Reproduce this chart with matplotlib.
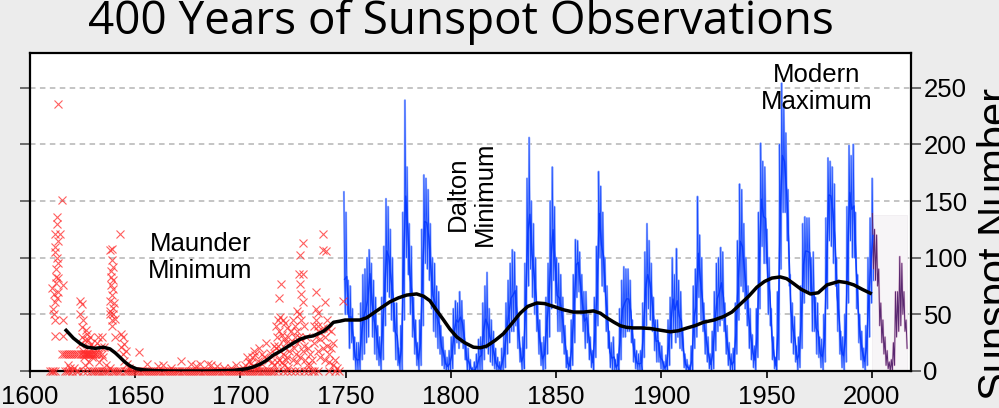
import matplotlib
matplotlib.use("Agg")
import matplotlib.pyplot as plt
from matplotlib.patches import Rectangle
import numpy as np

# ---------------- data ----------------
title = "400 Years of Sunspot Observations"
ylabel = "Sunspot Number"
x_ticks = [1600, 1650, 1700, 1750, 1800, 1850, 1900, 1950, 2000]
y_ticks = [0, 50, 100, 150, 200, 250]

# monthly sunspot numbers 1749-2000: highest and lowest monthly value of each year
blue_first_year = 1749
blue_hi = [158, 140, 80, 75, 55, 30, 25, 25, 60, 85, 90, 100, 107, 95, 80, 65, 40, 30, 65, 110,
           152, 145, 125, 100, 60, 60, 20, 40, 140, 239, 180, 130, 110, 65, 45, 25, 45, 125, 173, 170,
           160, 130, 100, 95, 75, 70, 40, 30, 18, 12, 18, 30, 55, 62, 60, 70, 62, 45, 25, 20,
           10, 3, 8, 15, 28, 30, 60, 75, 87, 55, 45, 35, 20, 12, 8, 20, 35, 60, 80, 95,
           107, 105, 75, 50, 20, 30, 95, 170, 206, 150, 130, 100, 60, 45, 25, 30, 65, 95, 150, 180,
           145, 100, 95, 85, 65, 40, 18, 12, 45, 85, 116, 115, 105, 85, 70, 70, 50, 30, 18, 65,
           110, 176, 163, 140, 100, 75, 35, 25, 30, 10, 15, 55, 80, 92, 90, 90, 80, 45, 28, 18,
           15, 18, 60, 105, 130, 115, 95, 65, 45, 45, 25, 22, 8, 14, 45, 65, 100, 85, 108, 80,
           70, 35, 15, 10, 5, 22, 75, 90, 154, 120, 100, 60, 45, 30, 15, 35, 70, 95, 100, 109,
           105, 60, 40, 25, 15, 20, 60, 115, 165, 160, 130, 100, 75, 55, 32, 22, 55, 140, 201, 185,
           180, 125, 100, 55, 30, 12, 70, 200, 254, 235, 210, 160, 85, 60, 48, 22, 30, 75, 130, 136,
           135, 135, 100, 105, 65, 60, 30, 28, 50, 135, 188, 185, 180, 165, 100, 80, 35, 30, 50, 145,
           199, 190, 200, 140, 85, 50, 35, 20, 40, 100, 135, 170]
blue_lo = [50, 50, 20, 25, 10, 0, 0, 0, 10, 15, 25, 30, 50, 30, 15, 10, 5, 0, 10, 40,
           70, 65, 45, 35, 10, 5, 0, 0, 45, 100, 85, 50, 30, 15, 5, 0, 5, 40, 95, 90,
           80, 55, 35, 30, 20, 15, 5, 2, 0, 0, 0, 2, 15, 25, 20, 25, 20, 10, 0, 0,
           0, 0, 0, 0, 0, 0, 10, 20, 15, 8, 5, 2, 0, 0, 0, 0, 3, 15, 25, 35,
           35, 40, 20, 8, 0, 2, 20, 75, 90, 65, 50, 35, 15, 5, 0, 2, 15, 30, 55, 80,
           60, 35, 35, 25, 15, 3, 0, 0, 5, 25, 65, 70, 50, 35, 20, 25, 10, 3, 0, 12,
           40, 100, 75, 70, 35, 20, 3, 0, 0, 0, 0, 10, 30, 30, 35, 35, 25, 8, 2, 0,
           0, 0, 12, 40, 55, 45, 35, 18, 8, 8, 2, 0, 0, 0, 5, 20, 35, 25, 30, 20,
           18, 3, 0, 0, 0, 0, 20, 30, 65, 45, 35, 15, 8, 2, 0, 2, 18, 35, 40, 45,
           35, 15, 5, 0, 0, 0, 15, 45, 75, 70, 55, 40, 20, 10, 3, 0, 12, 55, 110, 95,
           95, 50, 40, 10, 2, 0, 10, 90, 140, 140, 115, 75, 25, 15, 8, 0, 3, 20, 60, 70,
           70, 70, 35, 35, 15, 12, 3, 0, 8, 55, 115, 110, 95, 75, 35, 15, 3, 0, 8, 60,
           115, 100, 100, 55, 25, 10, 3, 0, 5, 30, 60, 80]
# yearly means 1749-2000
blue_mean = [80.9, 83.4, 47.7, 47.8, 30.7, 12.2, 9.6, 10.2, 32.4, 47.6, 54.0, 62.9, 85.9, 61.2,
             45.1, 36.4, 20.9, 11.4, 37.8, 69.8, 106.1, 100.8, 81.6, 66.5, 34.8, 30.6, 7.0, 19.8,
             92.5, 154.4, 125.9, 84.8, 68.1, 38.5, 22.8, 10.2, 24.1, 82.9, 132.0, 130.9, 118.1,
             89.9, 66.6, 60.0, 46.9, 41.0, 21.3, 16.0, 6.4, 4.1, 6.8, 14.5, 34.0, 45.0, 43.1,
             47.5, 42.2, 28.1, 10.1, 8.1, 2.5, 0.0, 1.4, 5.0, 12.2, 13.9, 35.4, 45.8, 41.1, 30.1,
             23.9, 15.6, 6.6, 4.0, 1.8, 8.5, 16.6, 36.3, 49.6, 64.2, 67.0, 70.9, 47.8, 27.5, 8.5,
             13.2, 56.9, 121.5, 138.3, 103.2, 85.7, 64.6, 36.7, 24.2, 10.7, 15.0, 40.1, 61.5,
             98.5, 124.7, 96.3, 66.6, 64.5, 54.1, 39.0, 20.6, 6.7, 4.3, 22.7, 54.8, 93.8, 95.8,
             77.2, 59.1, 44.0, 47.0, 30.5, 16.3, 7.3, 37.6, 74.0, 139.0, 111.2, 101.6, 66.2,
             44.7, 17.0, 11.3, 12.4, 3.4, 6.0, 32.3, 54.3, 59.7, 63.7, 63.5, 52.2, 25.4, 13.1,
             6.8, 6.3, 7.1, 35.6, 73.0, 85.1, 78.0, 64.0, 41.8, 26.2, 26.7, 12.1, 9.5, 2.7, 5.0,
             24.4, 42.0, 63.5, 53.8, 62.0, 48.5, 43.9, 18.6, 5.7, 3.6, 1.4, 9.6, 47.4, 57.1,
             103.9, 80.6, 63.6, 37.6, 26.1, 14.2, 5.8, 16.7, 44.3, 63.9, 69.0, 77.8, 64.9, 35.7,
             21.2, 11.1, 5.7, 8.7, 36.1, 79.7, 114.4, 109.6, 88.8, 67.8, 47.5, 30.6, 16.3, 9.6,
             33.2, 92.6, 151.6, 136.3, 134.7, 83.9, 69.4, 31.5, 13.9, 4.4, 38.0, 141.7, 190.2,
             184.8, 159.0, 112.3, 53.9, 37.6, 27.9, 10.2, 15.1, 47.0, 93.8, 105.9, 105.5, 104.5,
             66.6, 68.9, 38.0, 34.5, 15.5, 12.6, 27.5, 92.5, 155.4, 154.6, 140.4, 115.9, 66.6,
             45.9, 17.9, 13.4, 29.4, 100.2, 157.6, 142.6, 145.7, 94.3, 54.6, 29.9, 17.5, 8.6,
             21.5, 64.3, 93.3, 119.6]

# recent monthly data 2000-2016: highest and lowest monthly value of each year
purple_first_year = 2000
purple_hi = [139, 125, 120, 90, 60, 45, 30, 18, 8, 10, 25, 70, 70, 101, 95, 70, 45]
purple_lo = [90, 80, 75, 40, 25, 15, 5, 2, 0, 0, 5, 30, 35, 40, 50, 35, 20]

# early telescopic observations (group sunspot number)
red_year = [1609.5, 1610.3, 1611.0, 1612.0, 1616.5, 1617.5, 1618.5, 1619.0, 1618.0,
            1610.3, 1611.1, 1611.9, 1611.9, 1611.9, 1611.9, 1611.9, 1612.7, 1612.7, 1612.7,
            1613.1, 1612.3, 1613.5, 1612.7, 1613.1, 1615.1, 1614.3, 1615.5, 1615.8, 1615.5,
            1612.3, 1611.5, 1612.3, 1613.1, 1612.0, 1611.5, 1613.5,
            1615, 1616, 1617, 1618, 1619, 1620, 1621, 1622, 1623, 1624, 1625, 1625.5, 1626, 1626.5,
            1627, 1627.5, 1628, 1628.5, 1629, 1629.5, 1630, 1631, 1632, 1633, 1634,
            1620, 1621, 1622, 1623, 1625, 1627, 1629, 1630, 1631, 1632, 1633, 1634, 1635, 1636,
            1637, 1638, 1639, 1640, 1641, 1642,
            1623.8, 1624.5, 1623.8, 1625.0, 1624.5, 1627.0, 1628.5, 1626.0, 1629.0, 1628.0,
            1623.8, 1625.0, 1630.0, 1631.0, 1624.5, 1626.5, 1627.5, 1625.5, 1629.5, 1628.0, 1626.0,
            1632.5, 1634.0, 1632.0, 1633.5, 1635.0, 1634.5, 1633.0, 1636.0,
            1638.8, 1638.0, 1642.6, 1639.3, 1638.3, 1639.5, 1638.3, 1639.5, 1638.8, 1638.0,
            1639.3, 1638.0, 1639.5, 1640.3, 1638.8, 1637.8, 1639.0, 1638.5, 1640.0, 1639.0, 1640.5,
            1643.2, 1644.0, 1644.5, 1643.2, 1645.5, 1644.0, 1644.5, 1646.0, 1647.0, 1645.0,
            1646.0, 1643.0,
            1651.9, 1655.8, 1660.6, 1671.7, 1676.4, 1684.4, 1689.0, 1695.4, 1663.0, 1667.0,
            1679.0, 1681.0, 1686.0, 1692.0, 1698.0,
            1647, 1648, 1649, 1650, 1651, 1652, 1653, 1654, 1655, 1656, 1657, 1658, 1659, 1660,
            1661, 1662, 1663, 1664, 1665, 1666, 1667, 1668, 1669, 1670, 1671, 1672, 1673, 1674,
            1675, 1676, 1677, 1678, 1679, 1680, 1681, 1682, 1683, 1684, 1685, 1686, 1687, 1688,
            1689, 1690, 1691, 1692, 1693, 1694, 1695, 1696, 1697, 1698, 1699, 1700,
            1703.3, 1706.5, 1708.1, 1705.0, 1710.0, 1711.0, 1702.0, 1704.0, 1707.0, 1709.0,
            1713.0, 1714.0, 1715.0, 1716.0, 1701.0, 1706.0, 1710.0, 1712.0, 1705.5, 1708.0,
            1701, 1702, 1703, 1704, 1705, 1706, 1707, 1708, 1709, 1710, 1711, 1712, 1713, 1714,
            1715, 1716,
            1739.4, 1729.9, 1739.4, 1740.6, 1728.3, 1728.0, 1729.9, 1719.3, 1728.3, 1718.3,
            1728.6, 1729.9, 1735.9, 1740.2, 1748.9, 1726.9, 1736.0, 1736.9, 1741.7,
            1717.0, 1718.0, 1719.0, 1720.0, 1721.0, 1722.0, 1717.5, 1718.5, 1719.5, 1720.5,
            1721.5, 1722.5, 1717.0, 1718.0, 1719.0, 1720.0, 1721.0, 1722.0, 1723.0, 1718.5,
            1719.5, 1720.5, 1721.5, 1722.5, 1716.5, 1717.5, 1716.0, 1723.5, 1724.0,
            1725.0, 1726.0, 1727.0, 1728.0, 1729.0, 1730.0, 1726.0, 1727.0, 1728.0, 1729.0,
            1730.0, 1731.0, 1725.5, 1726.5, 1728.5, 1729.5, 1730.5, 1731.5, 1727.0, 1725.0,
            1732.0, 1733.0, 1734.0, 1735.0, 1736.0, 1737.0, 1734.0, 1733.0,
            1735.0, 1736.0, 1737.0, 1738.0, 1739.0, 1740.0, 1741.0, 1742.0, 1743.0, 1738.0,
            1740.0, 1742.0, 1739.0, 1737.0, 1741.0, 1743.0, 1744.0, 1745.0, 1744.0, 1746.0,
            1718, 1720, 1722, 1724, 1726, 1728, 1730, 1732, 1735, 1737, 1742, 1745, 1747]
red_value = [0, 0, 0, 0, 0, 0, 0, 3, 5,
             73, 55, 61, 45, 31, 121, 109, 136, 130, 100,
             95, 83, 82, 64, 236, 151, 121, 76, 45, 31,
             90, 68, 78, 115, 105, 50, 70,
             15, 15, 15, 15, 15, 15, 15, 15, 15, 15, 15, 15, 15, 15,
             15, 15, 15, 15, 15, 15, 15, 15, 15, 15, 15,
             0, 3, 0, 0, 0, 0, 0, 0, 0, 0, 0, 0, 0, 0,
             0, 3, 0, 0, 0, 0,
             62, 59, 50, 45, 39, 33, 30, 27, 24, 21,
             24, 18, 21, 15, 30, 36, 27, 12, 12, 8, 5,
             30, 30, 25, 21, 21, 12, 8, 5,
             108, 107, 121, 92, 83, 80, 76, 72, 67, 62,
             56, 53, 50, 46, 45, 50, 98, 88, 60, 40, 30,
             33, 30, 24, 21, 18, 15, 9, 6, 3, 0,
             0, 0,
             17, 6, 4.5, 9, 6, 6, 4, 3, 5, 3,
             4, 6, 5, 3, 5,
             0, 0, 0, 0, 0, 0, 0, 0, 0, 0, 0, 0, 0, 0,
             0, 0, 0, 0, 0, 0, 0, 0, 0, 0, 0, 0, 0, 0,
             0, 0, 0, 0, 0, 0, 0, 0, 0, 0, 0, 0, 0, 0,
             0, 0, 0, 0, 0, 0, 0, 0, 0, 0, 0, 0,
             12, 18, 9, 7, 6, 12, 5, 8, 14, 20,
             10, 16, 8, 22, 3, 4, 15, 25, 12, 3,
             0, 0, 0, 0, 0, 0, 0, 0, 0, 0, 0, 0, 0, 0,
             0, 0,
             121, 113, 107, 106, 102, 86, 86, 77, 77, 64,
             68, 61, 70, 61, 62, 53, 55, 51, 37,
             40, 45, 48, 45, 42, 38, 30, 35, 32, 28,
             25, 30, 20, 22, 18, 15, 20, 12, 18, 10,
             8, 5, 10, 3, 15, 8, 5, 25, 35,
             45, 40, 35, 50, 45, 40, 30, 25, 30, 28,
             22, 30, 20, 15, 12, 18, 10, 5, 8, 10,
             20, 15, 10, 25, 30, 40, 0, 5,
             40, 45, 35, 28, 38, 30, 22, 15, 20, 12,
             10, 8, 20, 18, 45, 35, 25, 10, 5, 3,
             0, 0, 0, 0, 0, 0, 0, 0, 0, 0, 0, 0, 0]

# smoothed long-term average
smooth_year = [1616.6, 1620.6, 1624.0, 1627.0, 1631.0, 1634.9, 1638.0, 1640.5, 1642.8, 1645.0,
               1647.5, 1650.5, 1653.9, 1660.0, 1666.5, 1675.0, 1685.0, 1696.6, 1703.0, 1706.0,
               1709.3, 1712.5, 1715.6, 1719.0, 1722.0, 1725.0, 1728.3, 1731.5, 1734.6, 1737.0,
               1739.4, 1742.0, 1744.2, 1747.3, 1749.7, 1752.0, 1756.8, 1760.0, 1763.1, 1767.0,
               1771.0, 1775.0, 1779.0, 1783.7, 1787.0, 1790.0, 1793.0, 1796.5, 1799.5, 1802.8,
               1806.5, 1810.7, 1814.0, 1817.0, 1821.0, 1825.0, 1829.0, 1832.9, 1836.5, 1840.8,
               1844.5, 1848.7, 1853.5, 1858.2, 1863.0, 1867.7, 1871.0, 1874.0, 1877.5, 1880.4,
               1883.5, 1886.7, 1890.5, 1894.7, 1899.5, 1904.2, 1908.0, 1912.1, 1916.0, 1920.0,
               1925.0, 1929.5, 1933.5, 1937.5, 1941.5, 1945.4, 1949.0, 1952.5, 1956.5, 1959.5,
               1962.9, 1966.5, 1970.8, 1974.5, 1978.7, 1984.3, 1988.0, 1991.4, 1995.5, 2000.0]
smooth_value = [37, 29, 24, 21, 20, 21, 19.5, 16, 12, 8,
                4.5, 2, 1, 0.3, 0, 0, 0, 0.5, 2, 3.5,
                6, 9.5, 14, 17.5, 21, 24.5, 28, 30, 31, 33,
                35, 39, 43, 44, 45, 45, 45, 47, 51, 56,
                61, 64.5, 67, 68, 66, 62, 54, 45, 37, 30,
                25, 21, 20.5, 22, 27, 33, 42, 51, 57, 60,
                59.5, 57, 54, 52, 52, 53, 51, 47, 43, 40,
                38.5, 38, 38, 37.5, 36, 34.6, 35.5, 37.9, 40, 43,
                45, 48, 52, 59, 66, 74, 79, 82, 83, 81.5,
                77, 72, 68, 69, 76, 79, 78, 76, 72, 68]

annotations = [("Maunder\nMinimum", 1681, 100, 0),
               ("Dalton\nMinimum", 1809.6, 156, 90),
               ("Modern\nMaximum", 1973.6, 249, 0)]

# ---------------- figure ----------------
W, H = 999, 408
fig = plt.figure(figsize=(W / 100, H / 100), dpi=100)
fig.patch.set_facecolor("#ececec")
ax = fig.add_axes([30 / W, 1 - 371 / H, (911 - 30) / W, (371 - 53) / H])
ax.set_facecolor("white")
ax.set_xlim(1600, 2018.6)
ax.set_ylim(0, 280.6)

tick_font = "Liberation Sans"

# grid
for yv in y_ticks[1:]:
    ax.axhline(yv, color="#b4b4b4", lw=1.1, dashes=(3.6, 2.9), zorder=1)

# faint panel behind the recent data
ax.add_patch(Rectangle((purple_first_year, 0), 16.5, 138, facecolor="#f7f5f7",
                       edgecolor="#efebef", lw=0.5, zorder=1.5))

# blue monthly series: light band between monthly extremes, zig-zag and yearly path
years_b = np.arange(blue_first_year, blue_first_year + len(blue_hi)) + 0.5
bx, by = [], []
for i, (h, l, m) in enumerate(zip(blue_hi, blue_lo, blue_mean)):
    yr = blue_first_year + i
    bx += [yr + 0.15, yr + 0.5, yr + 0.85]
    by += [h, m, l]
ax.plot(bx, by, color="#9fb6ff", lw=1.5, zorder=2)
ax.plot(bx, by, color="#1a4cff", lw=0.6, zorder=2.1)
ax.plot(years_b, blue_mean, color="#0a3cff", lw=1.0, zorder=2.2)

# purple recent series
px, py = [], []
for i, (h, l) in enumerate(zip(purple_hi, purple_lo)):
    yr = purple_first_year + i
    px += [yr + 0.25, yr + 0.75]
    py += [h, l]
ax.plot(px, py, color="#e6c6dc", lw=1.5, zorder=2)
ax.plot(px, py, color="#5a2870", lw=0.7, zorder=2.1)

# red crosses
ax.plot(red_year, red_value, linestyle="none", marker="x", ms=5.5, mew=0.8,
        color="#ff2a2a", alpha=0.75, zorder=3, clip_on=False)

# smoothed black line
ax.plot(smooth_year, smooth_value, color="black", lw=2.5, zorder=4,
        solid_capstyle="butt")

# annotations
for txt, xx, yy, rot in annotations:
    ax.text(xx, yy, txt, ha="center", va="center", rotation=rot, fontsize=18.5,
            family=tick_font, linespacing=1.15, zorder=5)

# spines & ticks
for s in ax.spines.values():
    s.set_linewidth(1.6)
    s.set_color("black")
    s.set_zorder(2.5)

ax.set_xticks(x_ticks)
ax.set_xticklabels([str(v) for v in x_ticks], family=tick_font, fontsize=18.5)
ax.set_yticks(y_ticks)
ax.set_yticklabels([str(v) for v in y_ticks], family=tick_font, fontsize=18.5)
ax.tick_params(axis="x", direction="out", length=5, width=1.2, pad=5, top=False)
ax.tick_params(axis="y", direction="out", length=7, width=1.2, pad=2,
               left=True, right=True, labelleft=False, labelright=True,
               color="#555555", labelcolor="black")

fig.text(461 / W, 1 - 22 / H, title, ha="center", va="center", fontsize=33,
         family="Open Sans")
fig.text(977 / W, 1 - 244 / H, ylabel, ha="left", va="center", rotation=90,
         fontsize=30, family=tick_font)

fig.savefig("out.png", dpi=100, facecolor=fig.get_facecolor())
